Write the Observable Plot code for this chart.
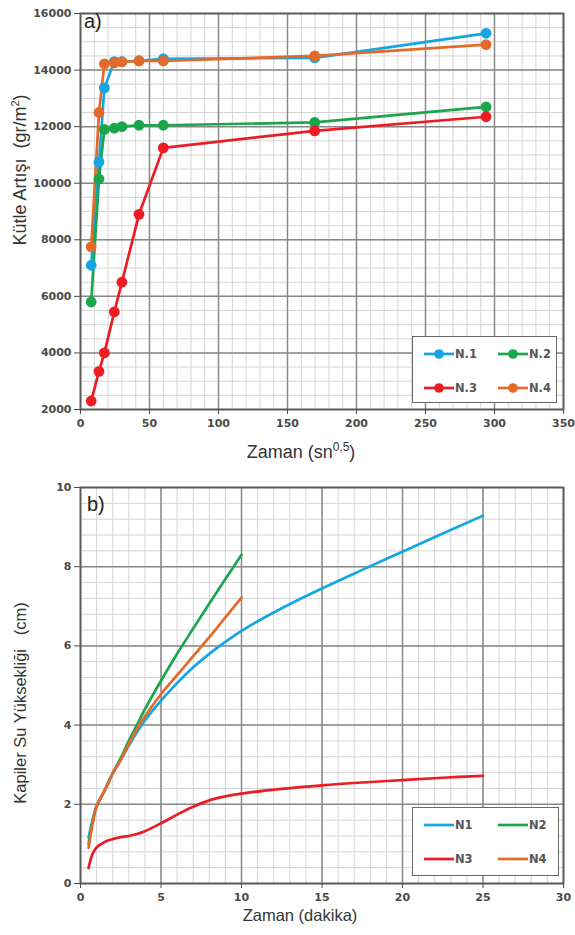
<!DOCTYPE html>
<html>
<head>
<meta charset="utf-8">
<script src="https://cdn.jsdelivr.net/npm/d3@7"></script>
<script src="https://cdn.jsdelivr.net/npm/@observablehq/plot@0.6"></script>
<style>
  body { margin: 0; background: #fff; }
  #wrap { position: relative; width: 575px; height: 935px; overflow: hidden; font-family: "Liberation Sans", Arial, sans-serif; }
  .chart { position: absolute; left: 0; }
  .ttl { position: absolute; white-space: nowrap; color: #333; font-size: 16.5px; transform: translate(-50%, -50%); }
  .big { font-size: 18px; }
  .ytl { transform: translate(-50%, -50%) rotate(-90deg); }
  .panel { position: absolute; font-size: 20px; color: #222; }
  .legend { position: absolute; background: #fff; border: 1.5px solid #666; box-sizing: border-box; }
  .item { position: absolute; display: flex; align-items: center; font-family: "DejaVu Sans", sans-serif; font-weight: bold; font-size: 11.5px; color: #555; transform: translateY(-50%); }
  .item svg { display: block; margin-right: 1px; }
</style>
</head>
<body>
<div id="wrap"></div>
<script>
// ---------- Data: panel a) ----------
const timeSqrtSec = [7.75, 13.4, 17.3, 24.5, 30, 42.4, 60, 169.7, 293.9];
const massN1 = [7100, 10750, 13370, 14300, 14300, 14330, 14400, 14430, 15300];
const massN2 = [5800, 10150, 11900, 11950, 12000, 12050, 12050, 12150, 12700];
const massN3 = [2300, 3350, 4000, 5450, 6500, 8900, 11250, 11850, 12350];
const massN4 = [7750, 12500, 14220, 14250, 14290, 14320, 14320, 14500, 14900];
const seriesA = ["N.1", "N.2", "N.3", "N.4"];
const xTicksA = [0, 50, 100, 150, 200, 250, 300, 350];
const yTicksA = [2000, 4000, 6000, 8000, 10000, 12000, 14000, 16000];

// ---------- Data: panel b) ----------
const minutesLong = [0.5, 0.75, 1, 1.5, 2, 2.5, 3, 3.5, 4, 5, 6, 7, 8, 9, 10, 12.5, 15, 17.5, 20, 22.5, 25];
const minutesShort = [0.5, 0.75, 1, 1.5, 2, 2.5, 3, 3.5, 4, 5, 6, 7, 8, 9, 10];
const riseN1 = [1.15, 1.6, 1.95, 2.35, 2.78, 3.12, 3.48, 3.82, 4.12, 4.62, 5.06, 5.46, 5.8, 6.1, 6.38, 6.95, 7.45, 7.92, 8.38, 8.84, 9.29];
const riseN2 = [1.0, 1.55, 1.95, 2.35, 2.78, 3.17, 3.6, 4.0, 4.4, 5.12, 5.8, 6.44, 7.07, 7.69, 8.3];
const riseN3 = [0.39, 0.75, 0.91, 1.05, 1.12, 1.17, 1.2, 1.25, 1.32, 1.52, 1.74, 1.94, 2.1, 2.2, 2.27, 2.39, 2.48, 2.55, 2.61, 2.67, 2.72];
const riseN4 = [0.9, 1.5, 1.95, 2.35, 2.78, 3.12, 3.52, 3.9, 4.22, 4.78, 5.26, 5.74, 6.22, 6.72, 7.22];
const seriesB = ["N1", "N2", "N3", "N4"];
const xTicksB = [0, 5, 10, 15, 20, 25, 30];
const yTicksB = [0, 2, 4, 6, 8, 10];

const palette = ["#14a6e3", "#1ba64c", "#ec1c24", "#e36a2a"];

// ---------- build tables ----------
const massSets = [massN1, massN2, massN3, massN4];
const tableA = [];
seriesA.forEach((s, i) => massSets[i].forEach((v, j) => tableA.push({series: s, x: timeSqrtSec[j], y: v})));

const riseSets = [[minutesLong, riseN1], [minutesShort, riseN2], [minutesLong, riseN3], [minutesShort, riseN4]];
const tableB = [];
seriesB.forEach((s, i) => riseSets[i][1].forEach((v, j) => tableB.push({series: s, x: riseSets[i][0][j], y: v})));

const wrap = document.getElementById("wrap");
const baseStyle = {fontFamily: "DejaVu Sans, sans-serif", fontSize: "11px", fontWeight: "bold", color: "#4a4a4a", background: "transparent", overflow: "visible"};

function gridMarks(xMinor, yMinor, xMajor, yMajor) {
  return [
    Plot.gridX(xMinor, {stroke: "#d4d4d4", strokeOpacity: 1, strokeWidth: 1}),
    Plot.gridY(yMinor, {stroke: "#d4d4d4", strokeOpacity: 1, strokeWidth: 1}),
    Plot.gridX(xMajor, {stroke: "#888", strokeOpacity: 1, strokeWidth: 1.5}),
    Plot.gridY(yMajor, {stroke: "#888", strokeOpacity: 1, strokeWidth: 1.5}),
  ];
}

// ---------- chart a ----------
const chartA = Plot.plot({
  width: 575, height: 470,
  marginTop: 13, marginBottom: 61, marginLeft: 80, marginRight: 12,
  style: baseStyle,
  x: {domain: [0, 350], ticks: xTicksA},
  y: {domain: [2000, 16000], ticks: yTicksA},
  color: {domain: seriesA, range: palette},
  marks: [
    ...gridMarks(d3.range(0, 351, 10), d3.range(2000, 16001, 500), xTicksA, yTicksA),
    Plot.frame({stroke: "#5a5a5a", strokeWidth: 1.8}),
    Plot.axisX({ticks: xTicksA, tickSize: 5, tickPadding: 5, label: null}),
    Plot.axisY({ticks: yTicksA, tickSize: 6, tickPadding: 3, label: null, tickFormat: d => String(d)}),
    Plot.line(tableA, {x: "x", y: "y", z: "series", stroke: "series", strokeWidth: 2.7}),
    Plot.dot(tableA, {x: "x", y: "y", fill: "series", r: 5.4, stroke: "none"}),
  ]
});
chartA.classList.add("chart");
chartA.style.top = "0px";
wrap.appendChild(chartA);

// ---------- chart b ----------
const chartB = Plot.plot({
  width: 575, height: 465,
  marginTop: 17, marginBottom: 52, marginLeft: 80, marginRight: 12,
  style: baseStyle,
  x: {domain: [0, 30], ticks: xTicksB},
  y: {domain: [0, 10], ticks: yTicksB},
  color: {domain: seriesB, range: palette},
  marks: [
    ...gridMarks(d3.range(0, 31, 1), d3.range(0, 10.01, 0.4), xTicksB, yTicksB),
    Plot.frame({stroke: "#5a5a5a", strokeWidth: 1.8}),
    Plot.axisX({ticks: xTicksB, tickSize: 5, tickPadding: 5, label: null}),
    Plot.axisY({ticks: yTicksB, tickSize: 6, tickPadding: 3, label: null}),
    Plot.line(tableB, {x: "x", y: "y", z: "series", stroke: "series", strokeWidth: 2.7, curve: "catmull-rom"}),
  ]
});
chartB.classList.add("chart");
chartB.style.top = "470px";
wrap.appendChild(chartB);

// ---------- titles ----------
function addText(html, cls, left, top) {
  const d = document.createElement("div");
  d.className = cls;
  d.innerHTML = html;
  d.style.left = left + "px";
  d.style.top = top + "px";
  wrap.appendChild(d);
  return d;
}
addText("Kütle Artışı &nbsp;(gr/m<sup style='font-size:11px'>2</sup>)", "ttl big ytl", 20, 170);
addText("Zaman (sn<sup style='font-size:12px'>0,5</sup>)", "ttl big", 301, 451);
addText("Kapiler Su Yüksekliği &nbsp;&nbsp;(cm)", "ttl ytl", 20, 703);
addText("Zaman (dakika)", "ttl", 300, 915);
addText("a)", "panel", 84, 10);
addText("b)", "panel", 87, 493);

// ---------- legends ----------
function legend(left, top, w, h, names, withDot) {
  const box = document.createElement("div");
  box.className = "legend";
  Object.assign(box.style, {left: left + "px", top: top + "px", width: w + "px", height: h + "px"});
  const pos = [[11, 17], [85, 17], [11, 51], [85, 51]];
  names.forEach((n, i) => {
    const it = document.createElement("div");
    it.className = "item";
    it.style.left = pos[i][0] + "px";
    it.style.top = pos[i][1] + "px";
    const c = palette[i];
    it.innerHTML = `<svg width="30" height="12"><line x1="0" y1="6" x2="30" y2="6" stroke="${c}" stroke-width="2.7"/>` +
      (withDot ? `<circle cx="15" cy="6" r="4.8" fill="${c}"/>` : "") + `</svg><span>${n}</span>`;
    box.appendChild(it);
  });
  wrap.appendChild(box);
}
legend(412, 336, 145, 67, seriesA, true);
legend(412, 807, 147, 69, seriesB, false);
</script>
</body>
</html>
